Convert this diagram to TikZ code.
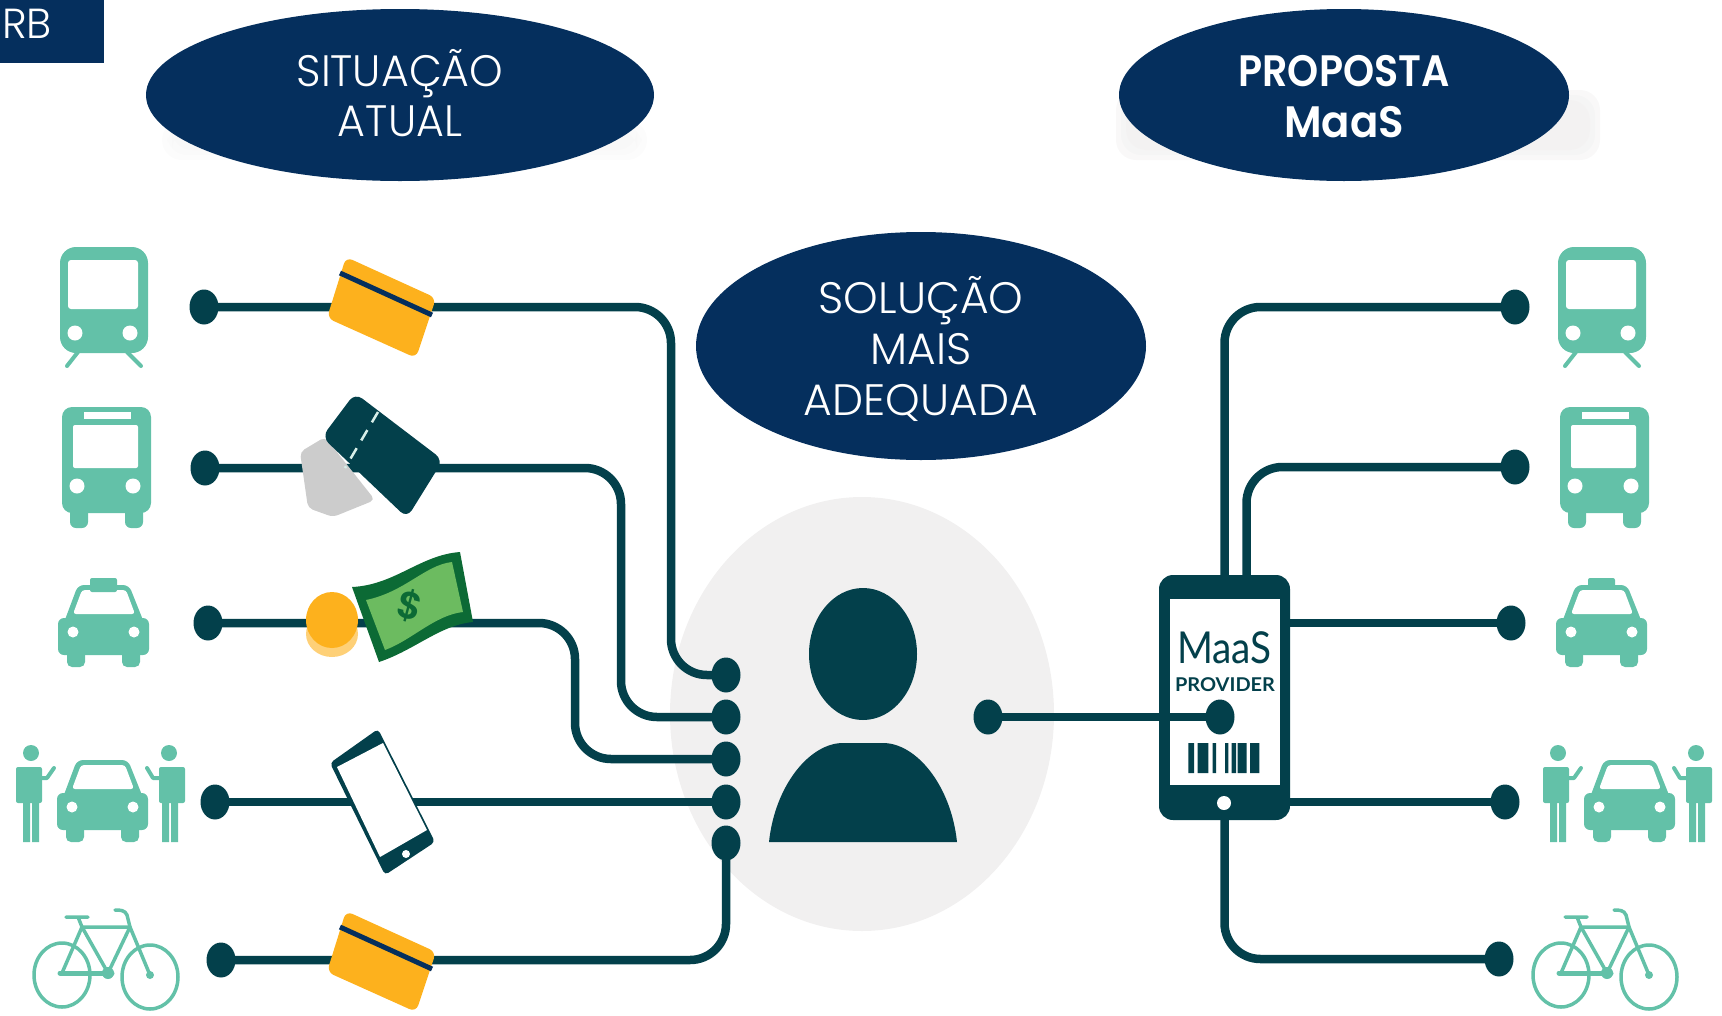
\documentclass[tikz,border=0pt]{standalone}
\usepackage{fontspec}
\usetikzlibrary{shapes.geometric,calc}
\setmainfont{Poppins Light}[BoldFont=Poppins SemiBold]
\newfontfamily\latofont{Lato}
\definecolor{navy}{HTML}{052F5D}
\definecolor{darkt}{HTML}{03404B}
\definecolor{iconc}{HTML}{63C1A8}
\definecolor{cardc}{HTML}{FDB11D}
\definecolor{halo}{HTML}{F1F0F0}
\definecolor{billd}{HTML}{0C6A35}
\definecolor{billl}{HTML}{6CBB60}
\tikzset{
  blob/.style={ellipse,fill=navy,text=white,align=center,inner sep=0pt,outer sep=0pt,font=\fontsize{44}{50}\selectfont},
  wire/.style={draw=darkt,line width=8.5pt,rounded corners=36pt},
  dot/.style={ellipse,fill=darkt,inner sep=0pt,minimum width=29pt,minimum height=35pt},
  thin line/.style={draw=iconc,line width=3.5pt,line cap=round,line join=round},
}
\newcommand\lineat[2]{\raisebox{#1}[36pt][12pt]{#2}}
\newcommand\softbox[5]{%
 \fill[halo,opacity=#5,rounded corners=20pt] (#1,#2) rectangle (#3,#4);
 \fill[halo,opacity=#5,rounded corners=20pt] (#1+5,#2+5) rectangle (#3-5,#4-5);
 \fill[halo,opacity=#5,rounded corners=20pt] (#1+10,#2+10) rectangle (#3-10,#4-10);}
\newcommand\trainicon[1]{\begin{scope}[shift={(#1,0)}]
 \fill[iconc,rounded corners=16pt] (60,247) rectangle (148,353);
 \fill[white,rounded corners=3pt] (68,260) rectangle (138,309);
 \fill[white] (75,333) circle [radius=7.5] (130,333) circle [radius=7.5];
 \draw[thin line,line width=4pt] (78,352) -- (67,366) (127,352) -- (141,366);
\end{scope}}
\newcommand\busicon[1]{\begin{scope}[shift={(#1,0)}]
 \fill[iconc,rounded corners=10pt] (62,407) rectangle (151,513);
 \fill[iconc,rounded corners=6pt] (70,495) rectangle (88,528) (125,495) rectangle (143,528);
 \fill[white,rounded corners=2pt] (73,425) rectangle (138,468);
 \fill[white] (84,412) rectangle (131,419);
 \fill[white] (77,486) circle [radius=7.5] (133,486) circle [radius=7.5];
\end{scope}}
\newcommand\caricon[2]{\begin{scope}[shift={(#1,#2)}]
 \fill[iconc,rounded corners=6pt] (57,793) rectangle (148,830);
 \fill[iconc,rounded corners=5pt] (66,820) rectangle (84,842) (121,820) rectangle (139,842);
 \fill[iconc,rounded corners=6pt] (62,800) -- (77,760) -- (128,760) -- (144,800) -- cycle;
 \fill[white,rounded corners=3pt] (72,789) -- (81,765) -- (125,765) -- (134,789) -- cycle;
 \fill[white] (72,807) circle [radius=5.5] (133,807) circle [radius=5.5];
\end{scope}}
\newcommand\personpair[1]{\begin{scope}[shift={(#1,0)}]
 \fill[iconc] (31,753) circle [radius=8];
 \fill[iconc,rounded corners=2pt] (16,767) rectangle (42,803);
 \fill[iconc] (23,800) rectangle (30,842) (32,800) rectangle (39,842);
 \draw[thin line,line width=4pt] (40,778) -- (47,778) -- (54,768);
 \fill[iconc] (169,753) circle [radius=8];
 \fill[iconc,rounded corners=2pt] (159,767) rectangle (185,803);
 \fill[iconc] (162,800) rectangle (169,842) (171,800) rectangle (178,842);
 \draw[thin line,line width=4pt] (161,778) -- (153,778) -- (147,768);
\end{scope}}
\newcommand\bikeicon[1]{\begin{scope}[shift={(#1,0)}]
 \draw[thin line] (62,975) ellipse [x radius=28,y radius=32] (150,977) ellipse [x radius=28,y radius=32];
 \draw[thin line] (82,927) -- (130,927) -- (108,973) -- (82,927) -- (62,973) (130,927) -- (150,975);
 \draw[thin line] (82,927) -- (78,917) (66,917) -- (88,917);
 \draw[thin line] (130,927) -- (127,915) .. controls (125,910) and (120,910) .. (115,910);
 \draw[thin line,line width=5pt] (60,973) -- (112,973);
 \fill[iconc] (108,973) circle [radius=6] (150,975) circle [radius=4];
\end{scope}}
\newcommand\cardicon[1]{\begin{scope}[shift={(0,#1)}]
 \fill[cardc,rounded corners=7pt] (346,257) -- (436,298) -- (416,358) -- (327,318) -- cycle;
 \draw[navy,line width=5pt] (340,273) -- (432,315);
\end{scope}}
\begin{document}
\begin{tikzpicture}[x=1pt,y=-1pt]
\useasboundingbox (0,0) rectangle (1722,1015);
% backgrounds
\softbox{162}{120}{647}{160}{.2}
\softbox{1116}{90}{1600}{160}{.45}
\fill[halo] (862,714) ellipse [x radius=192,y radius=217];
% title shapes
\fill[navy] (0,0) rectangle (104,63);
\node[anchor=base west,text=white,inner sep=0pt,font=\fontsize{42}{42}\selectfont] (rb) at (2,38) {RB};
\node[blob,minimum width=508pt,minimum height=172pt] (atual) at (400,95) {\lineat{-4.5pt}{\scalebox{.97}[1]{SITUAÇÃO}}\\\lineat{-4.5pt}{\scalebox{.97}[1]{ATUAL}}};
\node[blob,minimum width=450pt,minimum height=172pt,font=\fontsize{44}{51}\selectfont\bfseries] (prop) at (1344,95) {\lineat{-4.5pt}{\scalebox{.9}[1]{PROPOSTA}}\\\lineat{-4.5pt}{\scalebox{.95}[1]{MaaS}}};
\node[blob,minimum width=450pt,minimum height=228pt,font=\fontsize{44}{51}\selectfont] (sol) at (921,346) {\lineat{-6pt}{SOLUÇÃO}\\\lineat{-6pt}{MAIS}\\\lineat{-6pt}{ADEQUADA}};
% left dots
\node[dot] (L1) at (204,307) {};
\node[dot] (L2) at (205,468) {};
\node[dot] (L3) at (208,623) {};
\node[dot] (L4) at (215,802) {};
\node[dot] (L5) at (221,960) {};
\node[dot] (T1) at (726,675) {};
\node[dot] (T2) at (726,717) {};
\node[dot] (T3) at (726,759) {};
\node[dot] (T4) at (726,802) {};
\node[dot] (T5) at (726,843) {};
% right dots
\node[dot] (R1) at (1515,307) {};
\node[dot] (R2) at (1515,467) {};
\node[dot] (R3) at (1511,623) {};
\node[dot] (R4) at (1505,802) {};
\node[dot] (R5) at (1499,959) {};
% phone
\node[fill=darkt,rounded corners=14pt,minimum width=131pt,minimum height=245pt,inner sep=0pt,outer sep=0pt] (prov) at (1224.5,697.5) {};
\fill[white] (1170,599) rectangle (1280,785);
\fill[white] (1224,803) circle [radius=7];
\node[text=darkt,inner sep=0pt,font=\latofont\fontsize{44}{44}\selectfont] (maas) at (1224.5,648) {\scalebox{.88}[1]{MaaS}};
\node[text=darkt,inner sep=0pt,font=\latofont\bfseries\fontsize{19}{19}\selectfont] (provider) at (1225,685) {\scalebox{1.05}[1]{PROVIDER}};
\fill[darkt] (1188.3,743) rectangle (1194,773) (1197.7,743) rectangle (1208.3,773) (1212.7,743) rectangle (1216,773) (1225,743) rectangle (1228.3,773) (1231.7,743) rectangle (1236,773) (1237.7,743) rectangle (1246.7,773) (1250,743) rectangle (1259.3,773);
\node[dot] (P) at (1220,717) {};
\node[dot] (C) at (988,717) {};
% left connectors
\draw[wire] (L1.center) -| (671,675) -- (T1.center);
\draw[wire] (L2.center) -| (621,717) -- (T2.center);
\draw[wire] (L3.center) -| (575,759) -- (T3.center);
\draw[wire] (L4.center) -- (T4.center);
\draw[wire] (L5.center) -| (T5.center);
% right connectors
\draw[wire] (R1.center) -| (prov.north);
\draw[wire] (R2.center) -| ([xshift=22pt]prov.north);
\draw[wire] (R3.center) -- (R3.center -| prov.east);
\draw[wire] (R4.center) -- (R4.center -| prov.east);
\draw[wire] (R5.center) -| (prov.south);
\draw[wire] (C.center) -- (P.center);
% person
\fill[darkt] (863,654) ellipse [x radius=54,y radius=66];
\fill[darkt] (769,842) .. controls (775,785) and (810,743) .. (843,743) -- (883,743) .. controls (916,743) and (951,785) .. (957,842) -- cycle;
% payment icons
\cardicon{0}
\fill[black!20,rounded corners=5pt] (300,452) -- (325,437) -- (375,500) -- (333,517) -- (308,508) -- cycle;
\fill[darkt,rounded corners=9pt] (355,393) -- (443,460) -- (407,518) -- (322,437) -- cycle;
\draw[white!75!iconc,line width=2.5pt,dash pattern=on 12pt off 9pt] (378,412) -- (345,468);
\fill[cardc!60!white] (332,634) ellipse [x radius=26,y radius=23];
\fill[cardc] (332,620) ellipse [x radius=26,y radius=28];
\fill[billd] (352,587) .. controls (395,585) and (420,555) .. (460,552) -- (473,622) .. controls (440,625) and (415,650) .. (379,662) -- cycle;
\fill[billl] (366,600) .. controls (405,592) and (425,565) .. (452,562) -- (463,612) .. controls (435,615) and (412,640) .. (385,650) -- cycle;
\node[text=billd,inner sep=0pt,rotate=-15,font=\bfseries\fontsize{38}{38}\selectfont] (dollar) at (410,606) {\$};
\fill[darkt,rounded corners=4pt] (378,729) -- (330,763) -- (385,875) -- (435,842) -- cycle;
\fill[white] (383,743) -- (337,767) -- (380,857) -- (427,830) -- cycle;
\fill[white] (406,854) circle [radius=4];
\cardicon{654}
% mode icons
\trainicon{0}
\trainicon{1498}
\busicon{0}
\busicon{1498}
\caricon{1}{-175}
\fill[iconc,rounded corners=2pt] (90,578) rectangle (117,592);
\begin{scope}[shift={(1498,0)}]\fill[iconc,rounded corners=2pt] (90,578) rectangle (117,592);\end{scope}
\caricon{1499}{-175}
\caricon{0}{0}
\caricon{1527}{0}
\personpair{0}
\personpair{1527}
\bikeicon{0}
\bikeicon{1499}
\end{tikzpicture}
\end{document}
